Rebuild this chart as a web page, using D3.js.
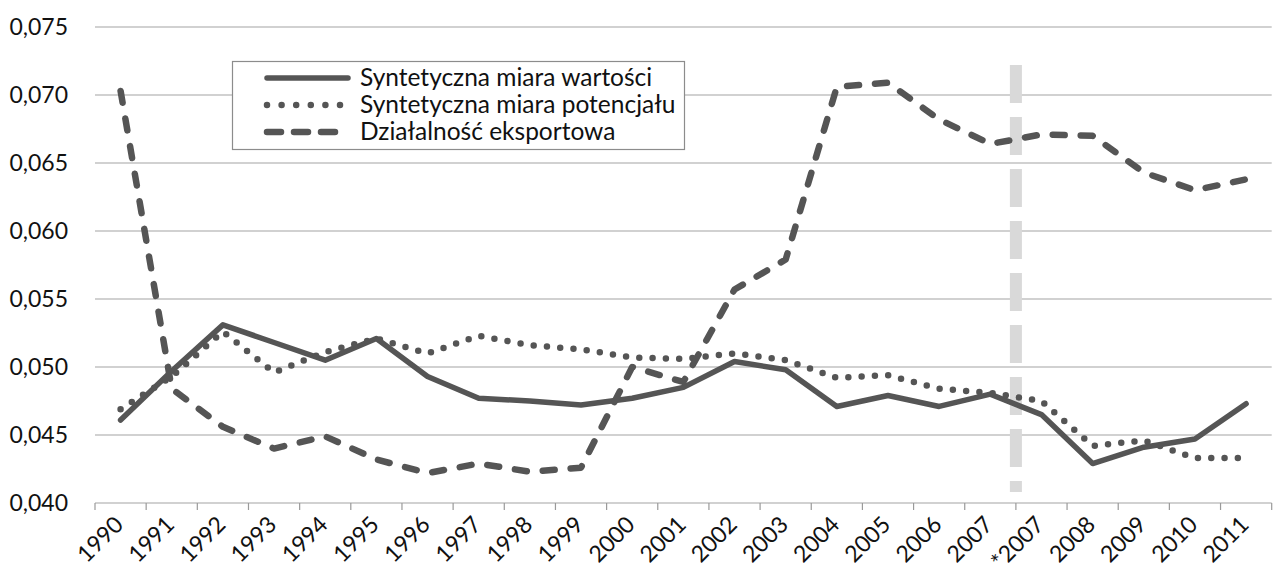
<!DOCTYPE html>
<html>
<head>
<meta charset="utf-8">
<script src="https://cdn.jsdelivr.net/npm/d3@7"></script>
<style>
  body { margin: 0; background: #fff; }
  text { font-family: Lato, "Open Sans", sans-serif; fill: #111; }
</style>
</head>
<body>
<svg id="chart" width="1279" height="573"></svg>
<script>
// categories along the x axis
const years = ['1990', '1991', '1992', '1993', '1994', '1995', '1996', '1997', '1998', '1999',
  '2000', '2001', '2002', '2003', '2004', '2005', '2006', '2007', '*2007', '2008', '2009', '2010', '2011'];

// series values
const miaraWartosci = [0.0461, 0.0497, 0.0531, 0.0518, 0.0505, 0.0521, 0.0493, 0.0477, 0.0475, 0.0472,
  0.0477, 0.0485, 0.0504, 0.0498, 0.0471, 0.0479, 0.0471, 0.0480, 0.0465, 0.0429, 0.0441, 0.0447, 0.0473];
const miaraPotencjalu = [0.0469, 0.0493, 0.0526, 0.0496, 0.0511, 0.0521, 0.0510, 0.0523, 0.0516, 0.0513,
  0.0507, 0.0506, 0.0510, 0.0505, 0.0492, 0.0494, 0.0484, 0.0481, 0.0475, 0.0442, 0.0446, 0.0433, 0.0433];
const eksport = [0.0703, 0.0484, 0.0456, 0.0440, 0.0449, 0.0432, 0.0422, 0.0429, 0.0423, 0.0426,
  0.0500, 0.0489, 0.0557, 0.0579, 0.0706, 0.0709, 0.0682, 0.0664, 0.0671, 0.0670, 0.0643, 0.0630, 0.0638];

// y axis ticks
const yTicks = [0.040, 0.045, 0.050, 0.055, 0.060, 0.065, 0.070, 0.075];

// separator before the "*2007" category, value range it covers
const separatorCategory = '*2007';
const separatorRange = [0.0408, 0.0722];

const series = [
  { name: 'Syntetyczna miara wartości', values: miaraWartosci, dash: null, width: 5.5, legendDash: null },
  { name: 'Syntetyczna miara potencjału', values: miaraPotencjalu, dash: '0 13.3', width: 6.5, legendDash: '0 14.6' },
  { name: 'Działalność eksportowa', values: eksport, dash: '12 16', width: 6.5, legendDash: '14 13' }
];

const svg = d3.select('#chart');
const lineColor = '#555';
const gridColor = '#c2c2c2';

const x = d3.scaleBand().domain(years).range([95, 1271.7]).padding(0);
const y = d3.scaleLinear().domain([0.040, 0.075]).range([503, 27]);
const fmt = d3.formatLocale({ decimal: ',', thousands: ' ', grouping: [3], currency: ['', ''] }).format('.3f');

// gridlines
svg.append('g')
  .selectAll('line')
  .data(yTicks)
  .join('line')
  .attr('x1', x.range()[0])
  .attr('x2', x.range()[1])
  .attr('y1', d => y(d))
  .attr('y2', d => y(d))
  .attr('stroke', gridColor)
  .attr('stroke-width', 1.5);

// y labels
svg.append('g')
  .selectAll('text')
  .data(yTicks)
  .join('text')
  .attr('x', 68)
  .attr('y', d => y(d))
  .attr('dy', '0.35em')
  .attr('text-anchor', 'end')
  .style('font-size', '23px')
  .text(d => fmt(d));

// x axis: ticks sit on the band edges
const edges = years.map(d => x(d)).concat([x.range()[1]]);
svg.append('g')
  .selectAll('line')
  .data(edges)
  .join('line')
  .attr('x1', d => d)
  .attr('x2', d => d)
  .attr('y1', y(0.040))
  .attr('y2', y(0.040) + 7)
  .attr('stroke', '#9a9a9a')
  .attr('stroke-width', 1.2);

svg.append('g')
  .selectAll('text')
  .data(years)
  .join('text')
  .attr('transform', d => `translate(${x(d) + x.bandwidth() / 2 + 4},${526}) rotate(-45)`)
  .attr('text-anchor', 'end')
  .style('font-size', '23px')
  .text(d => d);

// separator
svg.append('line')
  .attr('x1', x(separatorCategory))
  .attr('x2', x(separatorCategory))
  .attr('y1', y(separatorRange[1]))
  .attr('y2', y(separatorRange[0]))
  .attr('stroke', '#d9d9d9')
  .attr('stroke-width', 12)
  .attr('stroke-dasharray', '38 14');

// lines
const line = d3.line()
  .x((d, i) => x(years[i]) + x.bandwidth() / 2)
  .y(d => y(d));

svg.append('g')
  .selectAll('path')
  .data(series)
  .join('path')
  .attr('d', d => line(d.values))
  .attr('fill', 'none')
  .attr('stroke', lineColor)
  .attr('stroke-width', d => d.width)
  .attr('stroke-linecap', 'round')
  .attr('stroke-linejoin', 'round')
  .attr('stroke-dasharray', d => d.dash);

// legend
const legend = svg.append('g');
legend.append('rect')
  .attr('x', 232.5)
  .attr('y', 61.5)
  .attr('width', 452)
  .attr('height', 88)
  .attr('fill', '#fff')
  .attr('stroke', '#8c8c8c')
  .attr('stroke-width', 1.2);

const rows = legend.selectAll('g')
  .data(series)
  .join('g')
  .attr('transform', (d, i) => `translate(0,${78 + i * 27})`);

rows.append('line')
  .attr('x1', 267)
  .attr('x2', d => d.legendDash === '0 14.6' ? 341 : 348)
  .attr('stroke', lineColor)
  .attr('stroke-width', d => d.width)
  .attr('stroke-linecap', 'round')
  .attr('stroke-dasharray', d => d.legendDash);

rows.append('text')
  .attr('x', 360)
  .attr('dy', '0.33em')
  .style('font-size', '24.5px')
  .text(d => d.name);
</script>
</body>
</html>
